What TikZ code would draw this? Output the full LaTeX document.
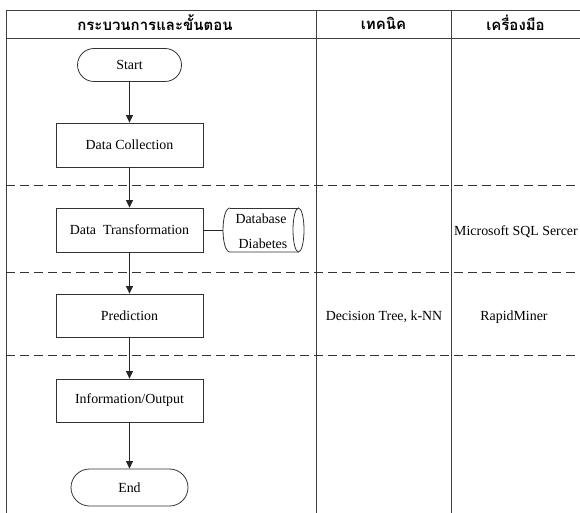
\documentclass[tikz,border=0pt]{standalone}
\usepackage{fontspec}
\setmainfont{Liberation Serif}
\newfontfamily\thaifont[Script=Thai]{Loma}
\usetikzlibrary{arrows.meta,shapes.geometric,shapes.misc}
\begin{document}
\begin{tikzpicture}[x=1pt,y=-1pt,
  every node/.style={font=\fontsize{13.9}{16}\selectfont},
  gridline/.style={draw=black!75,line width=0.9pt},
  dashline/.style={draw=black!80,line width=0.9pt,dash pattern=on 9pt off 5pt},
  procbox/.style={draw=black!80,line width=0.8pt,rectangle,minimum width=147pt,minimum height=44pt,inner sep=0pt},
  termbox/.style={draw=black!80,line width=0.8pt,rounded rectangle,inner sep=0pt},
  flow/.style={draw=black!85,line width=0.8pt,-{Triangle[length=7.5pt,width=7pt]}},
  link/.style={draw=black!85,line width=0.8pt},
  dbline/.style={draw=black!80,line width=0.8pt},
  head/.style={font=\thaifont\bfseries\fontsize{15}{17}\selectfont},
  ]
\useasboundingbox (0,0) rectangle (580,513);
% table
\coordinate (tl) at (6,10);
\coordinate (tr) at (580,10);
\coordinate (hl) at (6,38);
\coordinate (hr) at (580,38);
\draw[gridline] (tl) -- (tr);
\draw[gridline] (hl) -- (hr);
\coordinate (c0t) at (6,10);   \coordinate (c0b) at (6,513);
\coordinate (c1t) at (316,10); \coordinate (c1b) at (316,513);
\coordinate (c2t) at (451,10); \coordinate (c2b) at (451,513);
\draw[gridline] (c0t) -- (c0b);
\draw[gridline] (c1t) -- (c1b);
\draw[gridline] (c2t) -- (c2b);
\coordinate (d1l) at (6,185); \coordinate (d1r) at (580,185);
\coordinate (d2l) at (6,272); \coordinate (d2r) at (580,272);
\coordinate (d3l) at (6,355); \coordinate (d3r) at (580,355);
\draw[dashline] (d1l) -- (d1r);
\draw[dashline] (d2l) -- (d2r);
\draw[dashline] (d3l) -- (d3r);
% headers
\node[head] (h1) at (155,23) {กระบวนการและขั้นตอน};
\node[head] (h2) at (383.5,23) {เทคนิค};
\node[head] (h3) at (515.5,23) {เครื่องมือ};
% flow
\node[termbox,minimum width=104pt,minimum height=33pt] (start) at (129.5,65) {Start};
\node[procbox] (dc) at (129.5,145) {Data Collection};
\node[procbox] (dt) at (129.5,230) {Data\ \ Transformation};
\node[procbox,minimum height=43pt] (pred) at (129.5,315.5) {Prediction};
\node[procbox,minimum height=43pt] (info) at (129.5,400.5) {Information/Output};
\node[termbox,minimum width=117pt,minimum height=37pt] (end) at (129.5,487.5) {End};
% database cylinder (horizontal)
\node[rectangle,inner sep=0pt,minimum width=81pt,minimum height=44pt] (db) at (263.5,230) {};
\draw[dbline] (230,208) .. controls (220.7,208) and (220.7,252) .. (230,252) -- (298.5,252);
\draw[dbline] (230,208) -- (298.5,208);
\draw[dbline] (298.5,230) ellipse [x radius=5.5, y radius=22];
\node (dbt1) at (261,219) {Database};
\node (dbt2) at (263,244) {Diabetes};
\draw[flow] (start) -- (dc);
\draw[flow] (dc) -- (dt);
\draw[flow] (dt) -- (pred);
\draw[flow] (pred) -- (info);
\draw[flow] (info) -- (end);
\draw[link] (dt.east) -- (db.west);
% tools
\node (sql) at (516,232) {Microsoft SQL Sercer};
\node (tech) at (384,317) {Decision Tree, k-NN};
\node (rm) at (514,317) {RapidMiner};
\end{tikzpicture}
\end{document}
